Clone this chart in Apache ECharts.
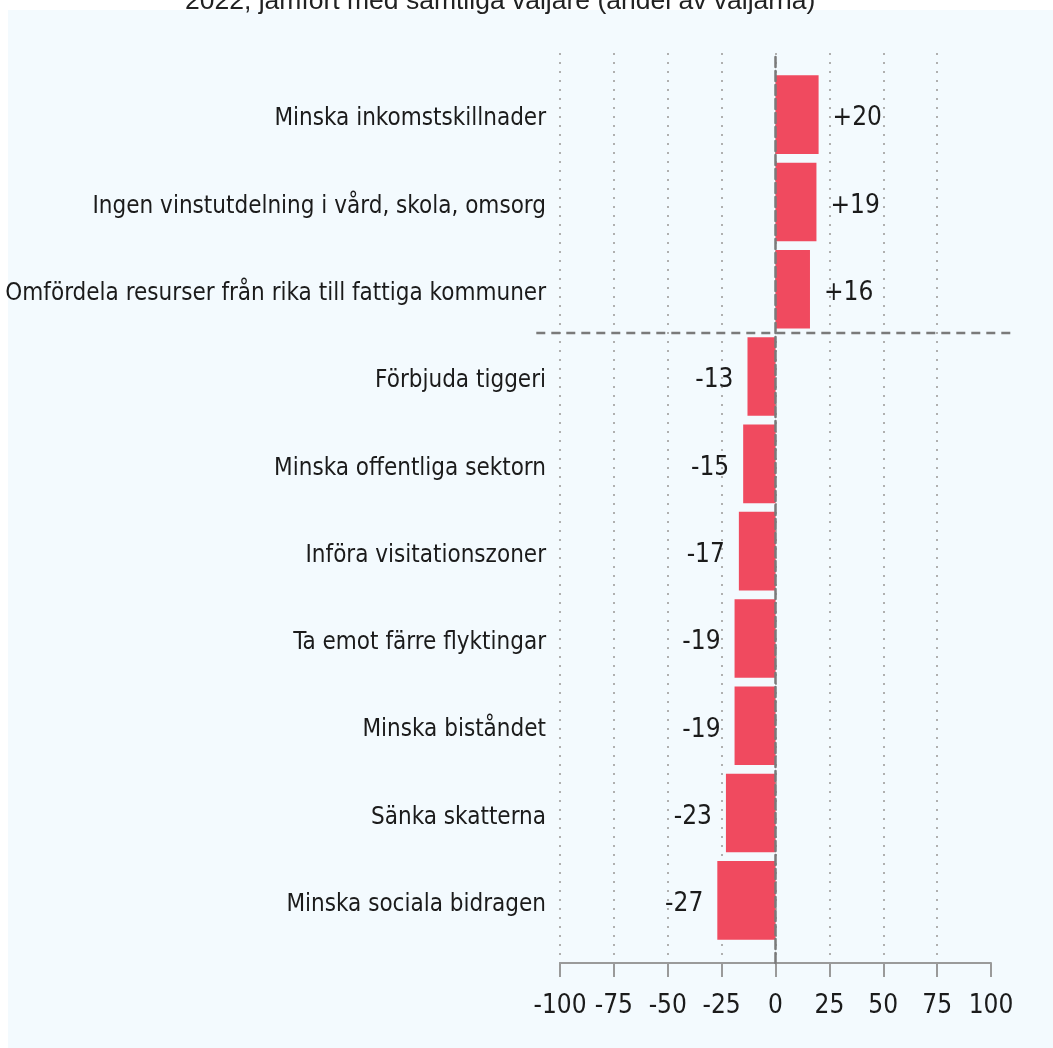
<!DOCTYPE html>
<html>
<head>
<meta charset="utf-8">
<script src="https://cdn.jsdelivr.net/npm/echarts@6/dist/echarts.min.js"></script>
<style>
  html, body { margin: 0; padding: 0; background: #fff; }
  #chart { width: 1053px; height: 1048px; }
</style>
</head>
<body>
<div id="chart"></div>
<script>
const categories = [
  "Minska inkomstskillnader",
  "Ingen vinstutdelning i vård, skola, omsorg",
  "Omfördela resurser från rika till fattiga kommuner",
  "Förbjuda tiggeri",
  "Minska offentliga sektorn",
  "Införa visitationszoner",
  "Ta emot färre flyktingar",
  "Minska biståndet",
  "Sänka skatterna",
  "Minska sociala bidragen",
];
const values = [20, 19, 16, -13, -15, -17, -19, -19, -23, -27];
const axisMin = -100;
const axisMax = 100;
const axisStep = 25;

const narrow = "'Liberation Sans Narrow', 'DejaVu Sans Condensed', sans-serif";
const textColor = "#1b1b1b";

const chart = echarts.init(document.getElementById("chart"));

chart.setOption({
  backgroundColor: "#fff",
  animation: false,
  title: {
    text: "2022, jämfört med samtliga väljare (andel av väljarna)",
    left: 180,
    top: -17,
    textStyle: {
      fontFamily: "'Liberation Sans', Arial, sans-serif",
      fontWeight: "normal",
      fontSize: 26.5,
      color: "#222",
    },
  },
  grid: [
    // axes + grid lines
    { left: 560, width: 431, top: 53, height: 910, outerBoundsMode: "none" },
    // bars
    { left: 560, width: 431, top: 71, height: 873, outerBoundsMode: "none" },
  ],
  xAxis: [
    {
      gridIndex: 0,
      type: "value",
      min: axisMin,
      max: axisMax,
      interval: axisStep,
      axisLine: { onZero: false, lineStyle: { color: "#9a9a9a", width: 2 } },
      axisTick: { show: true, length: 14, lineStyle: { color: "#9a9a9a", width: 2 } },
      axisLabel: {
        margin: 30,
        fontFamily: narrow,
        fontSize: 26,
        color: textColor,
      },
      splitLine: {
        show: true,
        showMaxLine: false,
        lineStyle: { type: [2, 7], color: "#b0b0b0", width: 2 },
      },
    },
    {
      gridIndex: 1,
      type: "value",
      min: axisMin,
      max: axisMax,
      show: false,
      splitLine: { show: false },
    },
  ],
  yAxis: [
    {
      gridIndex: 0,
      type: "value",
      min: 0,
      max: 1,
      z: 5,
      axisLine: {
        show: true,
        onZero: true,
        lineStyle: { color: "#7a7a7a", width: 2.5, type: [10, 4] },
      },
      axisTick: { show: false },
      axisLabel: { show: false },
      splitLine: { show: false },
    },
    {
      gridIndex: 1,
      type: "category",
      inverse: true,
      data: categories,
      axisLine: { show: false },
      axisTick: { show: false },
      axisLabel: {
        margin: 14,
        formatter: (v) => "{c|" + v + "}",
        rich: {
          c: {
            padding: [9, 0, 0, 0],
            fontFamily: narrow,
            fontSize: 24,
            color: textColor,
          },
        },
      },
    },
  ],
  series: [
    {
      type: "bar",
      xAxisIndex: 1,
      yAxisIndex: 1,
      barCategoryGap: "10%",
      itemStyle: { color: "#f04a5f" },
      data: values.map((v) => ({
        value: v,
        label: { position: v >= 0 ? "right" : "left" },
      })),
      label: {
        show: true,
        distance: 14,
        offset: [0, 4],
        fontFamily: narrow,
        fontSize: 26,
        color: textColor,
        formatter: (p) => (p.value > 0 ? "+" + p.value : String(p.value)),
      },
    },
  ],
});

// panel background + separator between positive and negative items
const yA = chart.convertToPixel({ yAxisIndex: 1 }, categories[2]);
const yB = chart.convertToPixel({ yAxisIndex: 1 }, categories[3]);
const sepY = (yA + yB) / 2;
const sepX1 = chart.convertToPixel({ xAxisIndex: 0 }, -111);
const sepX2 = chart.convertToPixel({ xAxisIndex: 0 }, 110);

chart.setOption({
  graphic: [
    {
      type: "rect",
      z: -10,
      silent: true,
      shape: { x: 8, y: 10, width: chart.getWidth() - 8, height: chart.getHeight() - 10 },
      style: { fill: "#f3fafe" },
    },
    {
      type: "line",
      z: 10,
      silent: true,
      shape: { x1: sepX1, y1: sepY, x2: sepX2, y2: sepY },
      style: { stroke: "#7a7a7a", lineWidth: 2.5, lineDash: [9, 6] },
    },
  ],
});
</script>
</body>
</html>
